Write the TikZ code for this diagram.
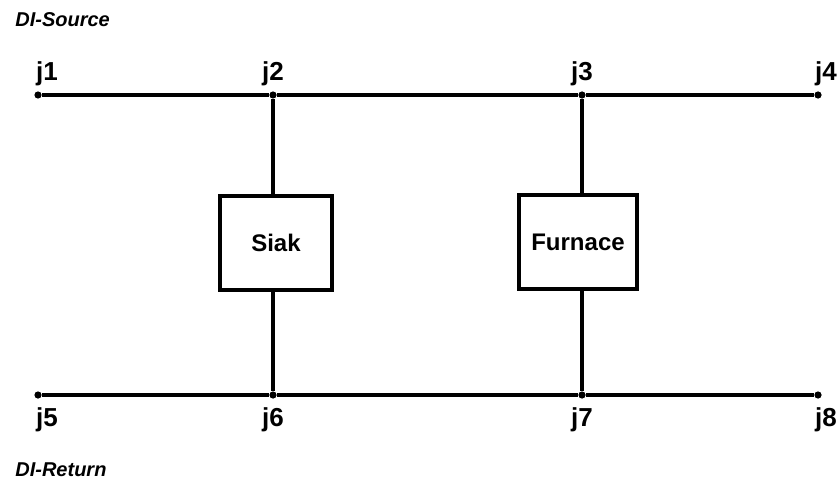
\documentclass[tikz,border=0pt]{standalone}
\usepackage{fontspec}
\setsansfont{Liberation Sans}
\usepackage{tikz}
\usetikzlibrary{positioning}

\begin{document}
\begin{tikzpicture}[
      x=0.5pt, y=-0.5pt,
      node distance = 2.5pt,
      jdot/.style = {circle, fill=black, inner sep=0pt, minimum size=3.6pt},
      jlab/.style = {inner sep=0pt, font=\sffamily\bfseries\fontsize{13}{13}\selectfont},
      unit/.style = {draw, line width=1.6pt, minimum width=56pt, minimum height=47pt,
                     font=\sffamily\bfseries\fontsize{12}{12}\selectfont},
      pipe/.style = {line width=1.6pt},
      side/.style = {anchor=west, inner sep=0pt,
                     font=\sffamily\bfseries\itshape\fontsize{10}{10}\selectfont},
    ]
    \useasboundingbox (0,0) rectangle (839,492);

    % supply and return junctions
    \node[jdot] (j1) at (38,95)  {};
    \node[jdot] (j2) at (273,95) {};
    \node[jdot] (j3) at (582,95) {};
    \node[jdot] (j4) at (818,95) {};
    \node[jdot] (j5) at (38,395)  {};
    \node[jdot] (j6) at (273,395) {};
    \node[jdot] (j7) at (582,395) {};
    \node[jdot] (j8) at (818,395) {};

    \node[jlab, above=of j1, xshift=4.5pt] {j1};
    \node[jlab, above=of j2] {j2};
    \node[jlab, above=of j3] {j3};
    \node[jlab, above=of j4, xshift=4pt] {j4};
    \node[jlab, below=4pt of j5, xshift=4.5pt] {j5};
    \node[jlab, below=4pt of j6] {j6};
    \node[jlab, below=4pt of j7] {j7};
    \node[jlab, below=4pt of j8, xshift=4pt] {j8};

    % units
    \node[unit] (sink) at (276,243) {Siak};
    \node[unit, minimum width=59pt] (furnace) at (578,242) {Furnace};

    \draw[pipe] (j1) -- (j2) -- (j3) -- (j4);
    \draw[pipe] (j5) -- (j6) -- (j7) -- (j8);
    \draw[pipe] (j2) -- (j2 |- sink.north);
    \draw[pipe] (j6 |- sink.south) -- (j6);
    \draw[pipe] (j3) -- (j3 |- furnace.north);
    \draw[pipe] (j7 |- furnace.south) -- (j7);

    \node[side] (src) at (15,20)  {DI-Source};
    \node[side] (ret) at (15,470) {DI-Return};
  \end{tikzpicture}
\end{document}
